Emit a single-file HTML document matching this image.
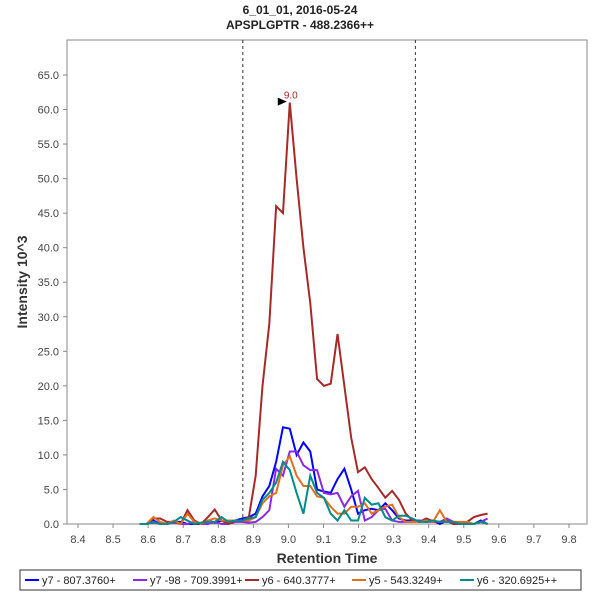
<!DOCTYPE html>
<html><head><meta charset="utf-8"><style>
body{margin:0;background:#fff;font-family:"Liberation Sans",sans-serif}
</style></head><body>
<svg id="c" width="600" height="600" xmlns="http://www.w3.org/2000/svg" style="font-family:'Liberation Sans',sans-serif">
<text x="300" y="14" text-anchor="middle" font-size="12" font-weight="bold" fill="#222">6_01_01, 2016-05-24</text>
<text x="300" y="29" text-anchor="middle" font-size="12" font-weight="bold" fill="#222">APSPLGPTR - 488.2366++</text>
<rect x="67" y="40" width="520" height="484" fill="#fff" stroke="#888"/>
<text transform="translate(27,282) rotate(-90)" text-anchor="middle" font-size="14" font-weight="bold" fill="#333">Intensity 10^3</text>
<text x="327" y="563" text-anchor="middle" font-size="14" font-weight="bold" fill="#333">Retention Time</text>
<g id="ax"></g><g id="series"></g>
<rect x="20" y="570" width="561" height="20" fill="#fff" stroke="#333"/>
<g id="leg"></g>
</svg>
<script>
const times=[];for(let i=0;i<52;i++)times.push(8.576+i*0.01945);
const y7=[0,0,0.5,0,0,0.3,0.3,0,0,0,0.5,0.2,0.5,0,0.5,0.8,1,1.5,4,5.5,9,14,13.8,10,11.8,10.5,5,4.7,4.5,6.5,8,5,1.5,2,2.2,2,3,2,0.8,0.5,0.5,0.5,0.3,0.5,0,0.5,0,0,0,0,0.5,0];
const y7b=[0,0,0.2,0,0,0.2,0,0,0.3,0,0,0.3,0,0,0.3,0.3,0.2,0.3,1,2,8,7,10.5,10.5,8.5,7.8,7.8,4.5,4.3,4.5,2.5,4,4.8,0.5,1,2,2.2,0.5,0.3,0.3,0.3,0.5,0.3,0.3,0.3,0.8,0.3,0.2,0,0,0.3,0.8];
const y6=[0,0,0.8,0.8,0.3,0.3,0,2,0.5,0,1,2.1,0.5,0,0.5,0.5,1,7,20,29,46,45,61,50,40,32,21,20,20.3,27.5,20,12.5,7.5,8.2,6.5,5.2,3.8,4.8,3.5,1.5,0.5,0.3,0.8,0.4,0.3,0.5,0,0,0.3,1,1.3,1.5];
const y5=[0,0,1,0.3,0,0.5,0,1.5,0.3,0,0.5,0.8,0.5,0.5,0.5,0.5,0.5,1,3,4,4.5,8.5,9.8,7,5.5,5.5,4,3.8,2.5,1.5,1.5,2.5,2.5,3,1.5,2,2.5,2.8,1,0.3,0.3,0.3,0.5,0.3,2,0.3,0.3,0.3,0.3,0,0.3,0];
const y6b=[0,0,0.3,0,0,0.3,1,0.5,0,0.2,0.3,0.3,1,0.3,0.5,0.5,0.8,1,3.5,4.5,6,9,7.8,4.5,1.5,7,4.5,3.8,1.5,0.5,2,0.5,0.5,3.8,2.8,3,1,0.5,1.2,1.2,0.8,0.3,0.3,0.5,0.3,0.3,0.3,0,0,0,0.3,0];
const names=["y7 - 807.3760+","y7 -98 - 709.3991+","y6 - 640.3777+","y5 - 543.3249+","y6 - 320.6925++"];
const colors=["#0000ff","#8a2be2","#a52a2a","#e07020","#008b8b"];
const seriesData=[y7,y7b,y6,y5,y6b];
const xTicks=[8.4,8.5,8.6,8.7,8.8,8.9,9.0,9.1,9.2,9.3,9.4,9.5,9.6,9.7,9.8];
const yTicks=[0,5,10,15,20,25,30,35,40,45,50,55,60,65];
const NS="http://www.w3.org/2000/svg";
const X=v=>78+(v-8.4)*350.7, Y=v=>524-v*6.908;
function mk(t,a,p){const e=document.createElementNS(NS,t);for(const k in a)e.setAttribute(k,a[k]);p.appendChild(e);return e;}
const ax=document.getElementById('ax');
xTicks.forEach(v=>{const l=mk('line',{x1:X(v),x2:X(v),y1:524,y2:528,stroke:'#888'},ax);


const t=mk('text',{x:X(v),y:543,'text-anchor':'middle','font-size':11,fill:'#444'},ax);t.textContent=v.toFixed(1);

});
yTicks.forEach(v=>{const l=mk('line',{x1:63,x2:67,y1:Y(v),y2:Y(v),stroke:'#888'},ax);


const t=mk('text',{x:59,y:Y(v)+4,'text-anchor':'end','font-size':11,fill:'#444'},ax);t.textContent=v.toFixed(1);

});
[8.87,9.362].forEach(v=>{const l=mk('line',{x1:X(v),x2:X(v),y1:40,y2:524,stroke:'#333','stroke-dasharray':'3,3'},ax);

});
const sg=document.getElementById('series');
seriesData.forEach((d,si)=>{const p=mk('polyline',{points:d.map((v,i)=>X(times[i])+','+Y(v)).join(' '),fill:'none',stroke:colors[si],'stroke-width':2},sg);

});
let mi=0;y6.forEach((v,i)=>{if(v>y6[mi])mi=i;});
const px=X(times[mi]),py=Y(y6[mi]);
const ar=mk('polygon',{points:`${px-12},${py-5} ${px-3},${py-1} ${px-12},${py+3}`,fill:'#000'},sg);


const pl=mk('text',{x:px+1,y:py-4,'text-anchor':'middle','font-size':10,fill:'#a52a2a'},sg);pl.textContent=times[mi].toFixed(1);


const lg=document.getElementById('leg');const lx=[25,133,245,352,460];
names.forEach((n,i)=>{const l=mk('line',{x1:lx[i],x2:lx[i]+14,y1:580,y2:580,stroke:colors[i],'stroke-width':2},lg);


const t=mk('text',{x:lx[i]+17,y:584,'font-size':11,fill:'#222'},lg);t.textContent=n;

});
</script>
</body></html>
